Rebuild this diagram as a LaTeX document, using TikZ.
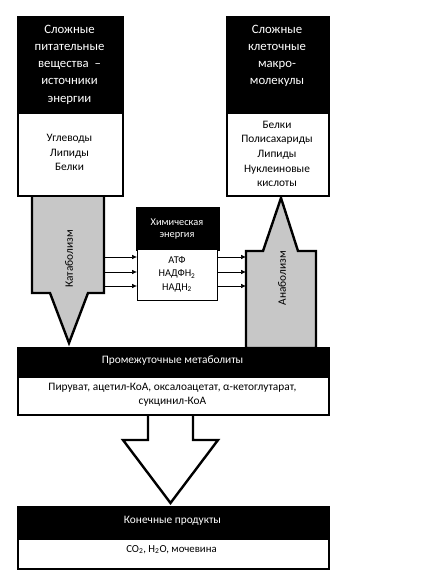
\documentclass[tikz,border=0pt]{standalone}
\usepackage{fontspec}
\setmainfont{Carlito}
\usetikzlibrary{arrows.meta}
\begin{document}
\begin{tikzpicture}[x=1bp,y=-1bp,
  hdr/.style={fill=black, draw=black, line width=2.2bp, inner sep=0pt},
  body/.style={fill=white, draw=black, line width=2.2bp, inner sep=0pt},
  bigtxt/.style={text=white, align=center, inner sep=0pt, font=\fontsize{12.8}{17.3}\selectfont},
  midtxt/.style={align=center, inner sep=0pt, font=\fontsize{11.4}{14.7}\selectfont},
  smalltxt/.style={align=center, inner sep=0pt, font=\fontsize{10.4}{12}\selectfont},
  grayarrow/.style={fill=black!22, draw=black, line width=2.4bp, line join=miter},
  whitearrow/.style={fill=white, draw=black, line width=2.4bp, line join=miter},
  conn/.style={-{Latex[length=5bp,width=4.5bp]}, line width=0.6bp}]
\useasboundingbox[fill=white] (0,0) rectangle (424,576);

% big process arrows (drawn first, boxes cover their ends)
\draw[grayarrow] (32,194) -- (32,293) -- (50,293) -- (69,343) -- (88,293) -- (104,293) -- (104,194) -- cycle;
\draw[grayarrow] (246,348) -- (246,251) -- (263,251) -- (281,198) -- (298,251) -- (316,251) -- (316,348) -- cycle;
\draw[whitearrow] (148,413) -- (148,440) -- (123,440) -- (170.5,503) -- (218,440) -- (193,440) -- (193,413);

\node[rotate=90, midtxt] (kat) at (69,259) {Катаболизм};
\node[rotate=90, midtxt] (ana) at (282,278) {Анаболизм};

% top left
\node[hdr, minimum width=105bp, minimum height=96bp, anchor=north west] (lh) at (17,16) {};
\node[body, minimum width=105bp, minimum height=83bp, anchor=north west] (lb) at (17,112) {};
\node[bigtxt] (lht) at (69.5,64.5) {Сложные\\питательные\\вещества~ –\\источники\\энергии};
\node[midtxt] (lbt) at (69.5,152.5) {Углеводы\\Липиды\\Белки};

% top right
\node[hdr, minimum width=102bp, minimum height=96bp, anchor=north west] (rh) at (226,16) {};
\node[body, minimum width=102bp, minimum height=83bp, anchor=north west] (rb) at (226,112) {};
\node[bigtxt] (rht) at (277,56) {Сложные\\клеточные\\макро-\\молекулы};
\node[midtxt] (rbt) at (277,154) {Белки\\Полисахариды\\Липиды\\Нуклеиновые\\кислоты};

% chemical energy
\node[hdr, minimum width=82bp, minimum height=42bp, anchor=north west] (ch) at (136,207) {};
\node[body, line width=1.2bp, minimum width=80bp, minimum height=51bp, anchor=north west] (cb) at (137,249) {};
\node[smalltxt, text=white] (cht) at (177,229) {Химическая\\энергия};
\node[smalltxt, font=\fontsize{10.4}{13.6}\selectfont] (cbt) at (177,274) {АТФ\\НАДФН\textsubscript{2}\\НАДН\textsubscript{2}};

% small connectors
\coordinate (k1) at (104,257);
\coordinate (k2) at (104,272);
\coordinate (k3) at (104,286);
\coordinate (a1) at (246,257);
\coordinate (a2) at (246,272);
\coordinate (a3) at (246,286);
\draw[conn] (k1) -- (k1 -| cb.west);
\draw[conn] (k2) -- (k2 -| cb.west);
\draw[conn] (k3) -- (k3 -| cb.west);
\draw[conn] (a1 -| cb.east) -- (a1);
\draw[conn] (a2 -| cb.east) -- (a2);
\draw[conn] (a3 -| cb.east) -- (a3);

% intermediate metabolites
\node[hdr, minimum width=311bp, minimum height=29bp, anchor=north west] (mh) at (17,347) {};
\node[body, minimum width=311bp, minimum height=38bp, anchor=north west] (mb) at (17,376) {};
\node[midtxt, text=white] (mht) at (172.5,360.5) {Промежуточные метаболиты};
\node[midtxt, font=\fontsize{11.4}{14}\selectfont] (mbt) at (172.5,395) {Пируват, ацетил-КоА, оксалоацетат, α-кетоглутарат,\\сукцинил-КоА};

% end products
\node[hdr, minimum width=311bp, minimum height=32bp, anchor=north west] (eh) at (17,506) {};
\node[body, minimum width=311bp, minimum height=30bp, anchor=north west] (eb) at (17,538) {};
\node[midtxt, text=white] (eht) at (172.5,520.5) {Конечные продукты};
\node[midtxt, font=\fontsize{10.8}{14}\selectfont] (ebt) at (171.5,549.5) {CO\textsubscript{2}, H\textsubscript{2}O, мочевина};
\end{tikzpicture}
\end{document}
